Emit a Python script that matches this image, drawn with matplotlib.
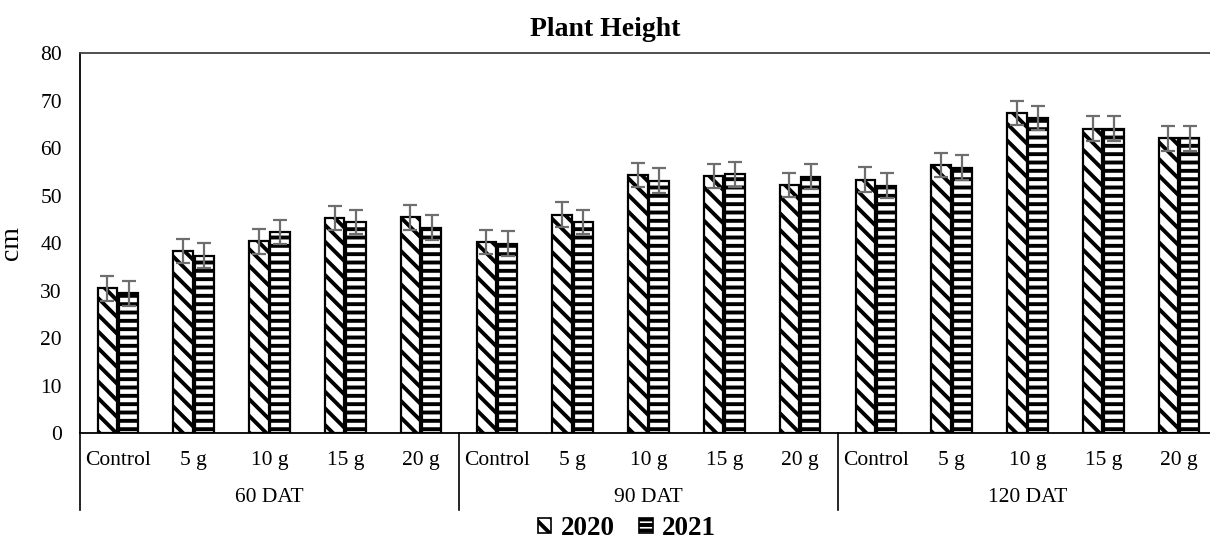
import numpy as np
import matplotlib
matplotlib.use("Agg")
import matplotlib.pyplot as plt
import matplotlib.transforms as mtransforms
from matplotlib.patches import Patch

# data
groups = ["60 DAT", "90 DAT", "120 DAT"]
doses = ["Control", "5 g", "10 g", "15 g", "20 g"]
h2020 = [30.5, 38.4, 40.4, 45.3, 45.5,
         40.3, 46.0, 54.4, 54.2, 52.3,
         53.4, 56.5, 67.4, 64.1, 62.1]
h2021 = [29.5, 37.4, 42.4, 44.5, 43.3,
         39.9, 44.5, 53.2, 54.5, 54.0,
         52.1, 55.9, 66.4, 64.1, 62.1]
err2020 = [2.6, 2.6, 2.6, 2.6, 2.6,
           2.5, 2.6, 2.6, 2.6, 2.6,
           2.6, 2.6, 2.6, 2.6, 2.6]
err2021 = [2.6, 2.7, 2.6, 2.6, 2.7,
           2.6, 2.6, 2.7, 2.6, 2.6,
           2.6, 2.6, 2.6, 2.6, 2.6]

plt.rcParams['font.family'] = ['Liberation Serif', 'DejaVu Serif']
plt.rcParams['hatch.linewidth'] = 2.8
plt.rcParams['hatch.color'] = 'black'

fig = plt.figure(figsize=(12.1, 5.44), dpi=100)
ax = fig.add_axes([80 / 1210, (544 - 433.3) / 544, 1130 / 1210, 380 / 544])

x = np.arange(len(h2020))
w = 0.255
off = 0.14
err_kw = dict(ecolor='#6e6e6e', elinewidth=1.6, capsize=5, capthick=1.6)

ax.bar(x - off, h2020, w, yerr=err2020, color='white', edgecolor='black',
       linewidth=1.6, hatch='\\\\', error_kw=err_kw, zorder=2)
ax.bar(x + off, h2021, w, yerr=err2021, color='white', edgecolor='black',
       linewidth=1.6, hatch='--', error_kw=err_kw, zorder=2)

ax.set_ylim(0, 80)
ax.set_yticks(range(0, 81, 10))
ax.set_xlim(-0.5, -0.5 + 1130 / 75.8)
ax.set_xticks([])
ax.tick_params(axis='y', length=0, pad=13, labelsize=15.5)
ax.spines['right'].set_visible(False)
for s in ['left', 'bottom']:
    ax.spines[s].set_linewidth(1.3)
    ax.spines[s].set_color('black')
ax.spines['top'].set_linewidth(1.3)
ax.spines['top'].set_color('#404040')

# category and group labels under the axis
trans = mtransforms.blended_transform_factory(ax.transData, ax.transAxes)
labels = [d for g in groups for d in doses]
for i, lab in enumerate(labels):
    ax.text(x[i], -0.072, lab, transform=trans, ha='center', va='center', fontsize=15.5)
for j, g in enumerate(groups):
    ax.text(j * 5 + 2, -0.17, g, transform=trans, ha='center', va='center', fontsize=15.5)
    ax.plot([j * 5 - 0.5, j * 5 - 0.5], [0, -0.202], transform=trans,
            color='black', linewidth=1.2, clip_on=False)

ax.set_ylabel('cm', fontsize=20, labelpad=12)
fig.text(0.5, 0.945, 'Plant Height', ha='center', va='center',
         fontsize=20, fontweight='bold')

handles = [Patch(facecolor='white', edgecolor='black', hatch='\\\\', linewidth=1.2, label='2020'),
           Patch(facecolor='white', edgecolor='black', hatch='---', linewidth=1.2, label='2021')]
fig.legend(handles=handles, loc='center', bbox_to_anchor=(0.518, 0.028), ncol=2,
           frameon=False, prop={'weight': 'bold', 'size': 19.5},
           handlelength=0.5, handleheight=0.5, handletextpad=0.35, columnspacing=0.9)

fig.savefig('out.png', dpi=100)
